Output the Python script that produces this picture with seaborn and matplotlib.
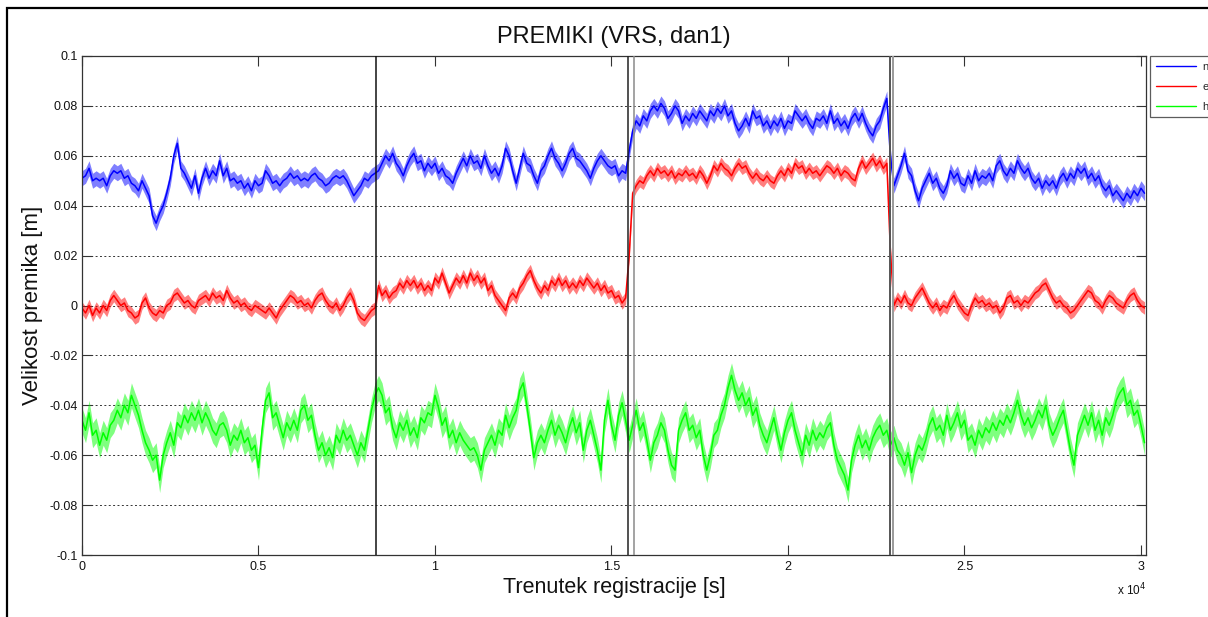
import numpy as np
import pandas as pd
import matplotlib
matplotlib.use("Agg")
import matplotlib.pyplot as plt
from matplotlib.ticker import FuncFormatter, MultipleLocator
from matplotlib.patches import Rectangle
import seaborn as sns

# ---------------- data (values in mm, one sample every 100 s) ----------------
step_s = 100

n_mm = [
    51, 52, 55, 50, 51, 50, 51, 48, 52, 54,
    53, 54, 51, 52, 49, 48, 46, 50, 47, 44,
    36, 33, 37, 40, 45, 51, 60, 65, 55, 53,
    50, 47, 52, 45, 51, 55, 51, 54, 52, 58,
    52, 55, 50, 51, 49, 50, 47, 49, 46, 50,
    48, 49, 54, 52, 49, 50, 48, 50, 51, 53,
    51, 52, 50, 51, 50, 52, 53, 51, 50, 48,
    49, 51, 52, 51, 52, 50, 47, 44, 46, 48,
    51, 50, 52, 53, 54, 57, 60, 58, 61, 57,
    55, 52, 56, 59, 61, 57, 58, 54, 57, 55,
    57, 53, 55, 52, 51, 49, 53, 56, 59, 56,
    60, 57, 58, 55, 60, 56, 53, 55, 52, 56,
    63, 60, 54, 49, 55, 61, 57, 56, 52, 49,
    54, 56, 60, 63, 59, 57, 54, 57, 61, 63,
    59, 58, 56, 54, 51, 55, 58, 60, 58, 56,
    55, 56, 52, 54, 53, 62, 70, 74, 72, 76,
    74, 78, 80, 78, 81, 79, 75, 77, 80, 78,
    73, 76, 74, 77, 75, 78, 76, 74, 78, 76,
    79, 77, 80, 76, 78, 73, 70, 72, 75, 72,
    78, 75, 76, 72, 74, 71, 74, 72, 75, 71,
    74, 73, 78, 76, 74, 76, 73, 71, 75, 74,
    76, 73, 78, 73, 75, 72, 74, 71, 75, 77,
    74, 77, 73, 70, 68, 72, 74, 79, 83, 60,
    48, 52, 56, 61, 54, 52, 46, 42, 47, 50,
    53, 49, 51, 47, 45, 48, 54, 51, 53, 49,
    48, 52, 49, 54, 50, 52, 51, 53, 50, 56,
    58, 54, 52, 55, 53, 58, 55, 53, 55, 51,
    49, 51, 47, 50, 48, 50, 47, 51, 53, 50,
    53, 51, 55, 53, 55, 51, 53, 50, 52, 48,
    46, 48, 44, 46, 44, 42, 45, 43, 46, 44,
    47, 45,
]

e_mm = [
    -1, -3, 0, -4, -1, -3, 0, -2, 2, 4,
    2, 0, 1, -2, -3, -5, -4, 1, 3, -1,
    -3, -4, -2, -3, 0, 1, 4, 5, 3, 1,
    2, 0, -1, 2, 3, 4, 2, 5, 3, 4,
    2, 6, 3, 1, 2, 0, 1, -1, -2, 0,
    -1, -2, -3, -1, -3, -5, -2, 0, 2, 4,
    3, 1, 2, 0, 1, -1, 2, 4, 5, 2,
    0, -1, 1, -2, 0, 3, 5, 2, -3, -5,
    -6, -4, -2, -1, 8, 4, 6, 3, 5, 6,
    9, 7, 10, 8, 10, 7, 9, 6, 8, 6,
    11, 9, 13, 9, 5, 8, 11, 9, 12, 9,
    13, 10, 12, 9, 11, 6, 8, 4, 2, 0,
    -2, 3, 5, 3, 7, 9, 12, 14, 10, 7,
    5, 8, 6, 10, 8, 11, 8, 10, 7, 9,
    7, 10, 8, 11, 9, 7, 9, 6, 8, 5,
    6, 3, 4, 1, 3, 20, 45, 48, 50, 49,
    52, 54, 52, 55, 53, 54, 52, 54, 51, 53,
    52, 54, 52, 53, 51, 54, 52, 49, 52, 56,
    54, 57, 55, 54, 52, 55, 57, 55, 56, 53,
    51, 53, 51, 50, 52, 50, 49, 52, 54, 52,
    55, 53, 57, 55, 56, 53, 55, 53, 54, 52,
    54, 56, 55, 53, 55, 52, 54, 53, 51, 50,
    55, 58, 55, 57, 59, 56, 58, 55, 57, 22,
    0, 3, 1, 4, 1, 0, 3, 5, 7, 4,
    1, -1, 1, -2, 0, -1, 2, 4, 1, -1,
    -3, -4, 0, 3, 1, 2, 0, 1, -1, 0,
    -3, -1, 3, 4, 1, 2, 0, 2, 1, 3,
    5, 6, 8, 9, 6, 3, 1, 2, 0, -1,
    -3, -2, 0, 2, 4, 6, 5, 2, 1, -1,
    2, 4, 3, 1, 0, -1, 2, 4, 5, 2,
    0, -1,
]

h_mm = [
    -46, -50, -43, -52, -50, -56, -51, -54, -48, -46,
    -42, -45, -40, -43, -36, -40, -44, -50, -55, -58,
    -62, -60, -70, -60, -55, -51, -56, -47, -49, -44,
    -47, -43, -46, -42, -47, -43, -46, -50, -52, -48,
    -47, -50, -56, -52, -54, -50, -55, -53, -58, -56,
    -65, -50, -38, -35, -45, -43, -48, -53, -47, -50,
    -46, -50, -42, -40, -46, -44, -52, -58, -55, -60,
    -57, -61, -52, -55, -50, -54, -52, -56, -60, -55,
    -58, -50, -42, -36, -33, -36, -43, -41, -49, -53,
    -47, -50, -46, -52, -49, -53, -45, -47, -43, -44,
    -36, -41, -48, -45, -53, -50, -55, -51, -54, -56,
    -58, -57, -60, -66, -58, -55, -52, -56, -50, -52,
    -44, -49, -45, -42, -34, -31, -40, -50, -61, -55,
    -52, -55, -50, -46, -52, -48, -51, -55, -49, -45,
    -51, -47, -58, -50, -46, -52, -58, -66, -46, -38,
    -48, -54, -44, -39, -46, -54, -48, -42, -50, -47,
    -54, -62, -55, -52, -47, -50, -58, -64, -66, -50,
    -46, -43, -50, -48, -53, -50, -60, -66, -60, -52,
    -50, -44, -40, -33, -28, -34, -38, -35, -40, -37,
    -44, -41, -48, -52, -55, -50, -45, -52, -58, -51,
    -46, -43, -50, -55, -60, -52, -56, -50, -54, -51,
    -53, -49, -47, -56, -62, -65, -68, -74, -62, -56,
    -52, -57, -54, -58, -53, -50, -48, -52, -50, -56,
    -53, -58, -60, -64, -59, -67, -60, -56, -58, -54,
    -48, -45, -50, -48, -52, -44, -50, -47, -43, -49,
    -46, -54, -52, -56, -50, -53, -49, -51, -47, -50,
    -46, -48, -44, -47, -43, -38, -44, -48, -45, -49,
    -46, -42, -45, -40, -48, -52, -49, -45, -42, -50,
    -58, -64, -52, -48, -44, -48, -43, -50, -46, -52,
    -45, -48, -44, -38, -35, -33, -40, -38, -44, -42,
    -48, -55,
]

series_labels = ["n", "e", "h"]
series_colors = ["#0000ff", "#ff0000", "#00ff00"]
# half-width of the fast jitter band around each trace (mm)
jitter_halfwidth_mm = [3.0, 2.5, 5.0]

# session break markers (s)
breaks_s = [8330, 15470, 15640, 22890, 22975]
break_colors = ["#111111", "#222222", "#8a8a8a", "#555555", "#9a9a9a"]
break_widths = [1.1, 1.1, 1.1, 1.4, 1.4]

title = "PREMIKI (VRS, dan1)"
xlabel = "Trenutek registracije [s]"
ylabel = "Velikost premika [m]"
xmax_s = 30142

# ---------------- styling ----------------
sns.set_theme(style="white")
plt.rcParams["font.family"] = ["Liberation Sans", "DejaVu Sans"]
plt.rcParams["axes.unicode_minus"] = False

W, H = 1208, 617
fig = plt.figure(figsize=(W / 100, H / 100), dpi=100)
fig.patch.set_facecolor("white")

ax = fig.add_axes([82 / W, 1 - 555 / H, (1146 - 82) / W, (555 - 56) / H])
ax.set_facecolor("white")

frames = []
for lab, vals in zip(series_labels, [n_mm, e_mm, h_mm]):
    v = np.asarray(vals, dtype=float) / 1000.0
    t = np.arange(len(v)) * step_s
    frames.append(pd.DataFrame({"t": t, "val": v, "comp": lab}))
df = pd.concat(frames, ignore_index=True)

for lab, col, hw in zip(series_labels, series_colors, jitter_halfwidth_mm):
    sub = df[df["comp"] == lab]
    ax.fill_between(sub["t"], sub["val"] - hw / 1000.0, sub["val"] + hw / 1000.0,
                    color=col, alpha=0.5, linewidth=0, zorder=1.5)
    sns.lineplot(data=sub, x="t", y="val", color=col, linewidth=1.1,
                 estimator=None, sort=False, ax=ax, label=lab, zorder=2)
if ax.get_legend() is not None:
    ax.get_legend().remove()

for xb, cb, wb in zip(breaks_s, break_colors, break_widths):
    ax.axvline(xb, color=cb, linewidth=wb, zorder=3)

ax.set_xlim(0, xmax_s)
ax.set_ylim(-0.1, 0.1)
ax.xaxis.set_major_locator(MultipleLocator(5000))
ax.yaxis.set_major_locator(MultipleLocator(0.02))


def fmt_num(v):
    v = round(v, 4)
    if abs(v) < 1e-9:
        v = 0.0
    return "%g" % v


ax.xaxis.set_major_formatter(FuncFormatter(lambda v, p: fmt_num(v / 1e4)))
ax.yaxis.set_major_formatter(FuncFormatter(lambda v, p: fmt_num(v)))

ax.tick_params(axis="both", which="major", direction="in", length=7, width=0.8,
               color="#333333", labelsize=9, labelcolor="#111111",
               top=True, right=True, bottom=True, left=True)
ax.tick_params(axis="y", pad=3)
ax.tick_params(axis="x", pad=4)

ax.yaxis.grid(True, color="#333333", linestyle=(0, (2, 2.5)), linewidth=0.7)
ax.xaxis.grid(False)
for sp in ax.spines.values():
    sp.set_visible(True)
    sp.set_color("#333333")
    sp.set_linewidth(0.9)

ax.set_xlabel("")
ax.set_ylabel("")

fig.text(614 / W, 1 - 37 / H, title, ha="center", va="center", fontsize=17, color="#111111")
fig.text(614 / W, 1 - 588 / H, xlabel, ha="center", va="center", fontsize=15.5, color="#111111")
fig.text(33 / W, 1 - 305 / H, ylabel, ha="center", va="center", rotation=90, fontsize=16, color="#111111")
fig.text(1146 / W, 1 - 590 / H, r"x 10$^{4}$", ha="right", va="center", fontsize=8.5, color="#111111")

handles, labels = ax.get_legend_handles_labels()
leg = fig.legend(handles, labels, loc="upper left",
                 bbox_to_anchor=(1150 / W, 1 - 56 / H), borderaxespad=0,
                 fontsize=8, frameon=True, fancybox=False, shadow=False,
                 handlelength=3.6, handletextpad=0.6, labelspacing=0.9,
                 borderpad=0.5)
leg.get_frame().set_edgecolor("#333333")
leg.get_frame().set_linewidth(0.9)
for lh in leg.get_lines():
    lh.set_linewidth(1.0)

# outer frame of the figure (left/top edges visible)
fig.patches.append(Rectangle((7 / W, -0.05), 1.2, 1 - 8 / H + 0.05,
                             transform=fig.transFigure, fill=False,
                             edgecolor="black", linewidth=1.6))

fig.savefig("out.png", dpi=100, facecolor="white")
